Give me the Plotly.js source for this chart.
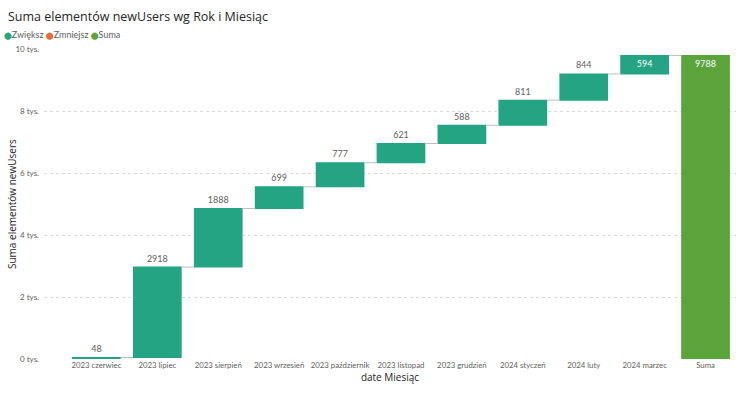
<!DOCTYPE html>
<html>
<head>
<meta charset="utf-8">
<script src="https://cdn.plot.ly/plotly-3.0.1.min.js"></script>
<style>html,body{margin:0;padding:0;background:#fff;}#chart{width:740px;height:393px;}</style>
</head>
<body>
<div id="chart"></div>
<script>
const categories = ["2023 czerwiec","2023 lipiec","2023 sierpień","2023 wrzesień","2023 październik","2023 listopad","2023 grudzień","2024 styczeń","2024 luty","2024 marzec","Suma"];
const values = [48, 2918, 1888, 699, 777, 621, 588, 811, 844, 594, 0];
const measures = ["relative","relative","relative","relative","relative","relative","relative","relative","relative","relative","total"];
const labels = ["48","2918","1888","699","777","621","588","811","844","594","9788"];
const labelPositions = ["outside","outside","outside","outside","outside","outside","outside","outside","outside","inside","inside"];
const yTickVals = [0, 2000, 4000, 6000, 8000, 10000];
const yTickText = ["0 tys.","2 tys.","4 tys.","6 tys.","8 tys.","10 tys."];
const legendNames = ["Zwiększ","Zmniejsz","Suma"];
const legendColors = ["#24A482","#E66C37","#5BA33B"];

const FONT = "Lato, 'Open Sans', sans-serif";
const TFONT = "'Open Sans', 'Noto Sans', sans-serif";

const trace = {
  type: "waterfall",
  x: categories,
  y: values,
  measure: measures,
  text: labels,
  textposition: labelPositions,
  insidetextanchor: "end",
  texttemplate: "%{text}",
  outsidetextfont: {family: FONT, size: 9, color: "#605E5C"},
  insidetextfont: {family: FONT, size: 9, color: "#FFFFFF"},
  cliponaxis: false,
  increasing: {marker: {color: legendColors[0]}},
  decreasing: {marker: {color: legendColors[1]}},
  totals: {marker: {color: legendColors[2]}},
  connector: {mode: "between", line: {color: "#BDBDBD", width: 1}},
  showlegend: false,
  hoverinfo: "skip"
};

const legendHtml = legendNames.map((n, i) => '<span style="color:' + legendColors[i] + ';font-family:DejaVu Sans;font-size:7px">⬤</span>' + n).join(' ');

const layout = {
  width: 740, height: 393,
  margin: {l: 44, r: 4, t: 49, b: 34},
  paper_bgcolor: "#fff", plot_bgcolor: "#fff",
  font: {family: FONT, color: "#605E5C", size: 9},
  bargap: 0.23,
  title: {
    text: "Suma elementów newUsers wg Rok i Miesiąc",
    font: {family: TFONT, size: 12.5, color: "#252423"},
    x: 8/740, xanchor: "left", xref: "container",
    y: 1 - 17/393, yanchor: "middle", yref: "container"
  },
  xaxis: {
    type: "category",
    range: [-0.5 - 22/61, 10.5],
    showgrid: false, zeroline: false, showline: false,
    ticks: "", tickangle: 0,
    tickfont: {family: FONT, size: 7.8, color: "#605E5C"},
    title: {text: "date Miesiąc", font: {family: TFONT, size: 10, color: "#252423"}, standoff: 5},
    automargin: false
  },
  yaxis: {
    range: [0, 10000],
    tickvals: yTickVals, ticktext: yTickText,
    showgrid: true, gridcolor: "#DADADA", griddash: "dot", gridwidth: 1,
    zeroline: false, showline: false, ticks: "",
    tickfont: {family: FONT, size: 8, color: "#605E5C"},
    ticklabelstandoff: 4,
    automargin: false
  },
  annotations: [{
    xref: "paper", yref: "paper",
    x: -42/692, y: 1 + 15/310, xanchor: "left", yanchor: "middle",
    text: legendHtml, showarrow: false,
    font: {family: FONT, size: 9, color: "#605E5C"}
  }, {
    xref: "paper", yref: "paper",
    x: -32/692, y: 0.5, xanchor: "center", yanchor: "middle",
    text: "Suma elementów newUsers", textangle: -90, showarrow: false,
    font: {family: TFONT, size: 10, color: "#252423"}
  }]
};

Plotly.newPlot("chart", [trace], layout, {displayModeBar: false, staticPlot: true});
</script>
</body>
</html>
